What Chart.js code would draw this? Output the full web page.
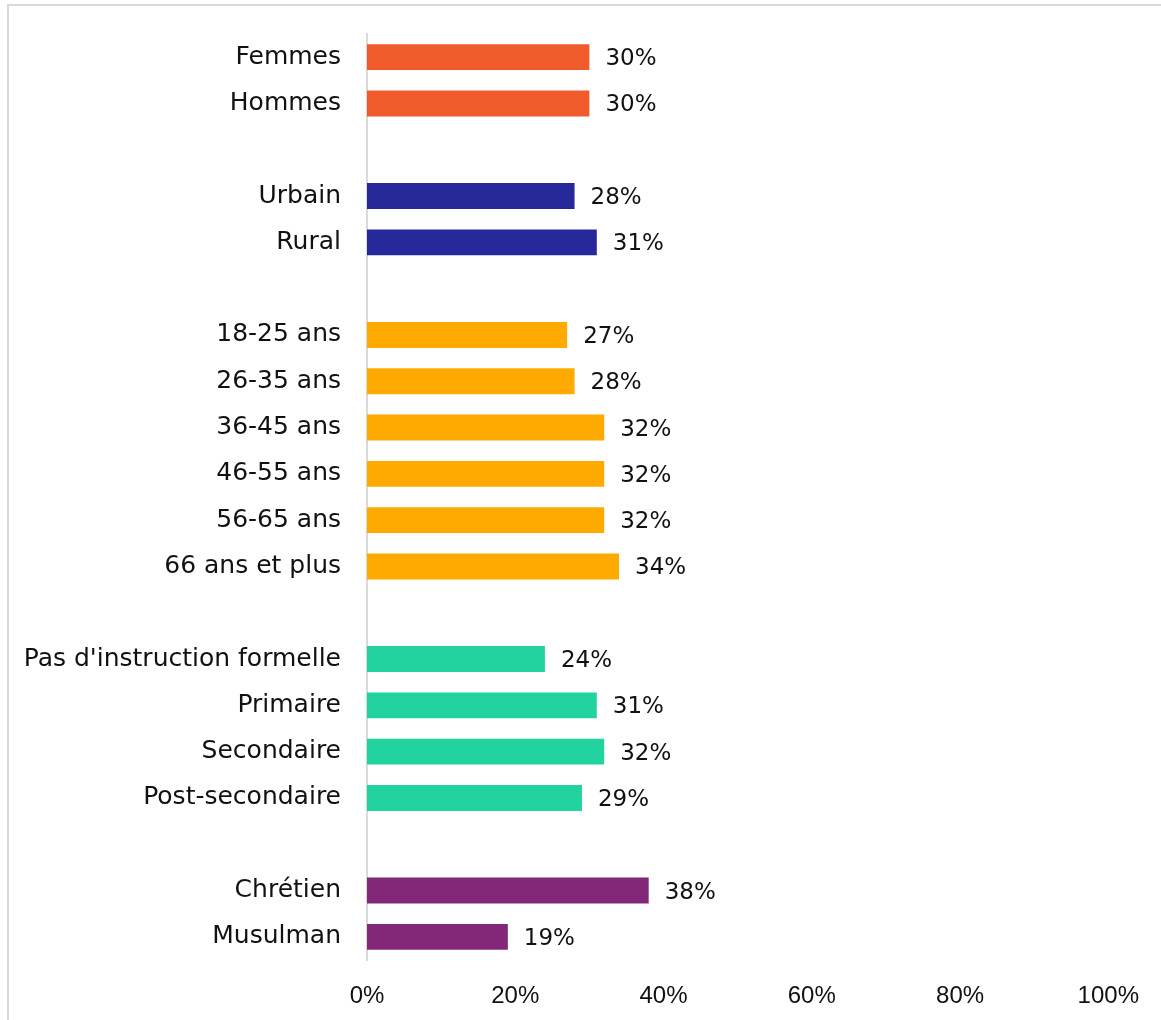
<!DOCTYPE html>
<html>
<head>
<meta charset="utf-8">
<script src="https://cdn.jsdelivr.net/npm/chart.js@4"></script>
<style>
  html, body { margin: 0; padding: 0; background: #fff; overflow: hidden; }
  #wrap { width: 1161px; height: 1020px; position: relative; }
</style>
</head>
<body>
<div id="wrap"><canvas id="chart" width="1161" height="1020"></canvas></div>
<script>
// Categories (empty strings = gaps between groups)
const categories = [
    'Femmes', 'Hommes', '',
    'Urbain', 'Rural', '',
    '18-25 ans', '26-35 ans', '36-45 ans', '46-55 ans', '56-65 ans', '66 ans et plus', '',
    "Pas d'instruction formelle", 'Primaire', 'Secondaire', 'Post-secondaire', '',
    'Chrétien', 'Musulman'
];
// Values in %
const values = [
    30, 30, null,
    28, 31, null,
    27, 28, 32, 32, 32, 34, null,
    24, 31, 32, 29, null,
    38, 19
];
const xTicks = [0, 20, 40, 60, 80, 100];

const orange = '#F15A2B', navy = '#27289A', amber = '#FFAA00', teal = '#22D3A0', purple = '#832878';
const barColors = [
    orange, orange, orange,
    navy, navy, navy,
    amber, amber, amber, amber, amber, amber, amber,
    teal, teal, teal, teal, teal,
    purple, purple
];

const labelFont = '"DejaVu Sans", sans-serif';

//Cadre gris autour du graphique
const framePlugin = {
    id: 'frame',
    beforeDraw(chart) {
        const ctx = chart.ctx;
        ctx.save();
        ctx.strokeStyle = '#d9d9d9';
        ctx.lineWidth = 2;
        ctx.strokeRect(8, 5, 1300, 1200);
        ctx.restore();
    }
};

//Etiquettes de valeurs au bout des barres
const valueLabels = {
    id: 'valueLabels',
    afterDatasetsDraw(chart) {
        const ctx = chart.ctx;
        const meta = chart.getDatasetMeta(0);
        ctx.save();
        ctx.font = '23px ' + labelFont;
        ctx.fillStyle = '#111';
        ctx.textAlign = 'left';
        ctx.textBaseline = 'middle';
        meta.data.forEach((bar, i) => {
            const v = values[i];
            if (v === null) return;
            ctx.fillText(v + '%', bar.x + 16, bar.y + 2);
        });
        ctx.restore();
    }
};

new Chart(document.getElementById('chart'), {
    type: 'bar',
    data: {
        labels: categories,
        datasets: [{
            data: values,
            backgroundColor: barColors,
            borderWidth: 0,
            barPercentage: 0.7,
            categoryPercentage: 0.8
        }]
    },
    options: {
        indexAxis: 'y',
        responsive: false,
        animation: false,
        layout: { padding: { top: 34, right: 44, left: 0, bottom: 0 } },
        plugins: {
            legend: { display: false },
            tooltip: { enabled: false }
        },
        scales: {
            x: {
                min: 0,
                max: 100,
                afterBuildTicks: axis => { axis.ticks = xTicks.map(v => ({ value: v })); },
                grid: { display: false, drawTicks: false },
                border: { display: false },
                ticks: {
                    padding: 22,
                    color: '#111',
                    font: { family: '"Liberation Sans", sans-serif', size: 24 },
                    callback: v => v + '%'
                },
                afterFit: axis => { axis.height = 60; }
            },
            y: {
                grid: { display: false, drawTicks: false },
                border: { display: true, color: '#d9d9d9', width: 2 },
                ticks: {
                    padding: 26,
                    color: '#111',
                    autoSkip: false,
                    font: { family: labelFont, size: 25 }
                },
                afterFit: axis => {
                    axis.width = 367;
                    axis.paddingTop = 0;
                    axis.paddingBottom = 0;
                }
            }
        }
    },
    plugins: [framePlugin, valueLabels]
});
</script>
</body>
</html>
